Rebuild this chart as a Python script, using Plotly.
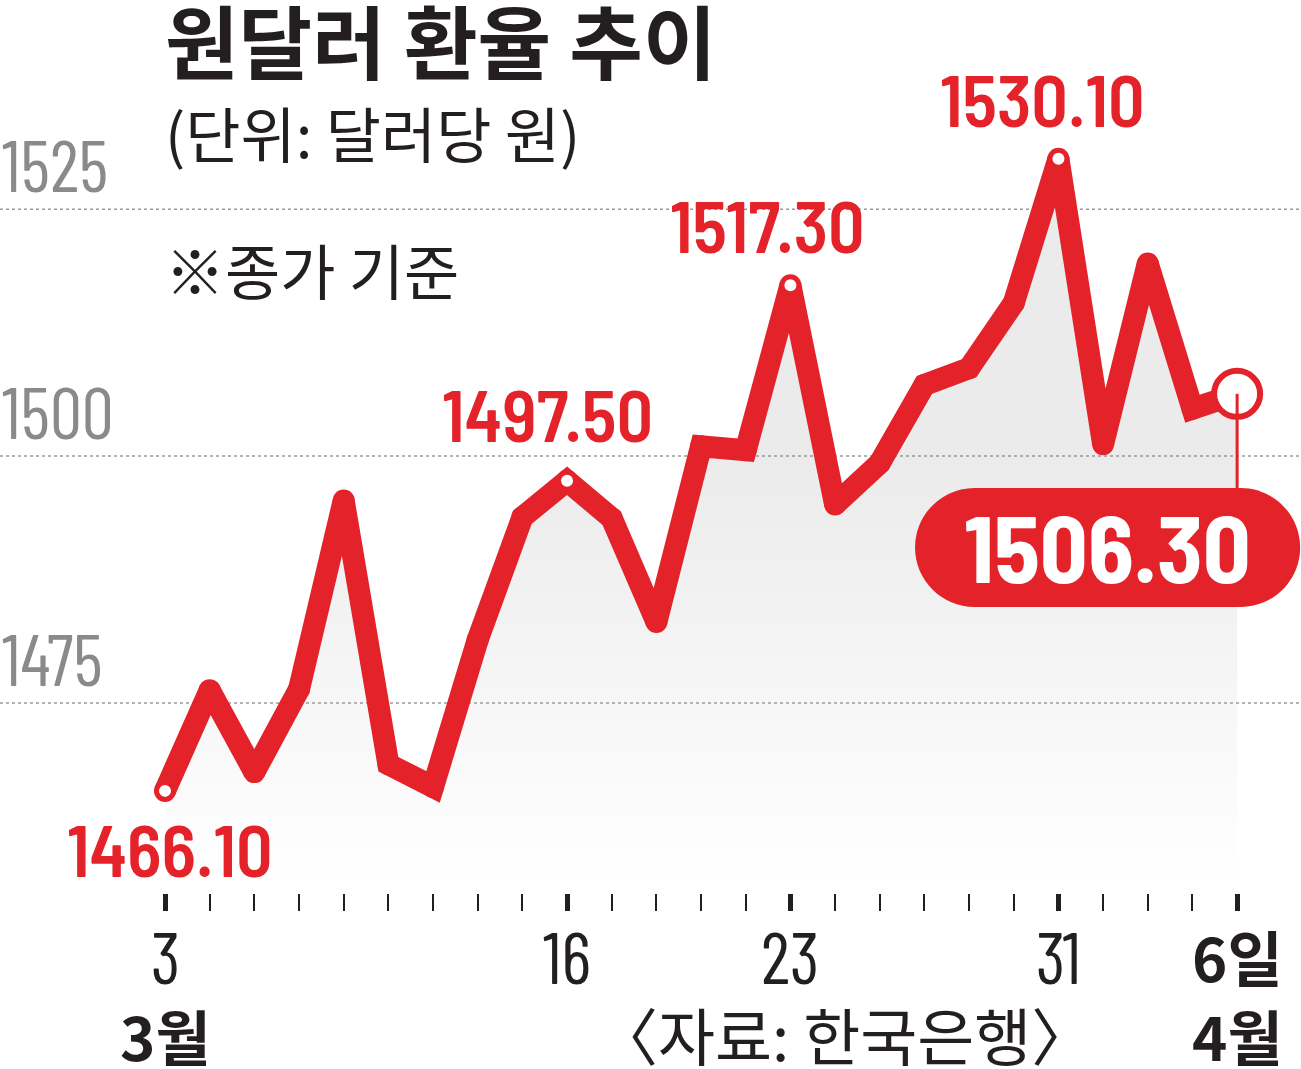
import plotly.graph_objects as go

# 원/달러 환율 종가 (2026년 3월 3일 ~ 4월 6일 영업일)
days = ["3", "4", "5", "6", "9", "10", "11", "12", "13", "16", "17", "18", "19",
        "20", "23", "24", "25", "26", "27", "30", "31", "1", "2", "3", "6"]
rates = [1466.1, 1476.3, 1468.0, 1476.4, 1495.5, 1468.8, 1466.5, 1481.4, 1493.8,
         1497.5, 1493.7, 1483.2, 1501.0, 1500.6, 1517.3, 1495.1, 1499.3, 1507.2,
         1508.9, 1515.5, 1530.1, 1501.2, 1519.5, 1504.8, 1506.3]

labeled_idx = [0, 9, 14, 20, 24]          # 눈금 라벨이 붙는 날짜
labeled_text = ["3", "16", "23", "31", "6일"]
highlight_idx = [0, 9, 14, 20]            # 수치가 표시된 지점
y_ticks = [1475, 1500, 1525]

RED = "#e42229"
DARK = "#231f20"
GREY = "#8a8a8a"
NARROW = "Barlow Condensed, Roboto Condensed, Liberation Sans Narrow, Roboto, sans-serif"
SEMI = "Barlow Semi Condensed, Roboto Condensed, Liberation Sans Narrow, Roboto, sans-serif"
KR = "Noto Sans CJK KR, sans-serif"

x = list(range(len(rates)))
X_RANGE = [-3.694, 25.43]
Y_RANGE = [1455.76, 1546.18]
PLOT_H = 893


def py(px):
    # 위에서부터의 픽셀 위치 -> paper 좌표
    return (PLOT_H - px) / PLOT_H


fig = go.Figure()

# 회색 그라데이션 영역
fig.add_trace(go.Scatter(
    x=x, y=rates, mode="lines", fill="tozeroy", line=dict(width=0),
    fillgradient=dict(type="vertical", start=1457, stop=1500,
                      colorscale=[[0, "#ffffff"], [1, "#ebebeb"]]),
    hoverinfo="skip",
))

# 점선 기준선
for v in y_ticks:
    fig.add_trace(go.Scatter(
        x=X_RANGE, y=[v, v], mode="lines",
        line=dict(color="#9a9a9a", width=1.5, dash="3px,3px"),
        hoverinfo="skip",
    ))

# 환율 선 (꼭짓점은 같은 색 원으로 둥글게)
fig.add_trace(go.Scatter(
    x=x, y=rates, mode="lines+markers",
    line=dict(color=RED, width=22),
    marker=dict(color=RED, size=22),
))

# 흰 점
fig.add_trace(go.Scatter(
    x=highlight_idx, y=[rates[i] for i in highlight_idx], mode="markers",
    marker=dict(color="white", size=12),
))

# 마지막 값 원
fig.add_trace(go.Scatter(
    x=[x[-1]], y=[rates[-1]], mode="markers",
    marker=dict(color="white", size=46, line=dict(color=RED, width=6)),
))

# 마지막 값 알약 모양 라벨
px_x = (X_RANGE[1] - X_RANGE[0]) / 1301
px_y = (Y_RANGE[1] - Y_RANGE[0]) / PLOT_H
x0, x1 = 16.79, 25.41
y0, y1 = 1484.72, 1496.77
ym = (y0 + y1) / 2
ry = (y1 - y0) / 2
rx = ry / px_y * px_x
k = 0.5523
path = (
    f"M {x0 + rx},{y1} L {x1 - rx},{y1} "
    f"C {x1 - rx + k * rx},{y1} {x1},{ym + k * ry} {x1},{ym} "
    f"C {x1},{ym - k * ry} {x1 - rx + k * rx},{y0} {x1 - rx},{y0} "
    f"L {x0 + rx},{y0} "
    f"C {x0 + rx - k * rx},{y0} {x0},{ym - k * ry} {x0},{ym} "
    f"C {x0},{ym + k * ry} {x0 + rx - k * rx},{y1} {x0 + rx},{y1} Z"
)
fig.add_shape(type="path", path=path, fillcolor=RED, line=dict(width=0), layer="above")
fig.add_shape(type="line", x0=x[-1], x1=x[-1], y0=rates[-1], y1=y1,
              line=dict(color=RED, width=3), layer="above")
fig.add_annotation(x=(x0 + x1) / 2, y=ym, text=f"{rates[-1]:.2f}",
                   showarrow=False, yshift=2,
                   font=dict(family=SEMI, size=94, weight=700, color="white"))

# 지점별 수치
offsets = {0: (5, -57), 9: (-20, 68), 14: (-23, 61), 20: (-16, 61)}
for i in highlight_idx:
    dx, dy = offsets[i]
    fig.add_annotation(x=x[i], y=rates[i], text=f"{rates[i]:.2f}",
                       showarrow=False, xshift=dx, yshift=dy,
                       font=dict(family=SEMI, size=72, weight=600, color=RED))

# y축 라벨
for v in y_ticks:
    fig.add_annotation(x=0, xref="paper", y=v, text=str(v), showarrow=False,
                       xanchor="left", yanchor="bottom", yshift=1,
                       font=dict(family=NARROW, size=72, weight=400, color=GREY))

# x축 눈금 라벨
for i, t in zip(labeled_idx, labeled_text):
    if t.endswith("일"):
        font = dict(family=KR, size=60, weight=700, color=DARK)
    else:
        font = dict(family=NARROW, size=72, weight=400, color=DARK)
    fig.add_annotation(x=x[i], y=py(955), yref="paper", text=t,
                       showarrow=False, yanchor="middle", font=font)

# 제목과 설명
fig.add_annotation(x=163 / 1301, xref="paper", y=py(38), yref="paper",
                   text="<b>원달러 환율 추이</b>", showarrow=False,
                   xanchor="left", yanchor="middle",
                   font=dict(family=KR, size=80, color=DARK))
fig.add_annotation(x=163 / 1301, xref="paper", y=py(132), yref="paper",
                   text="(단위: 달러당 원)", showarrow=False,
                   xanchor="left", yanchor="middle",
                   font=dict(family=KR, size=60, color=DARK))
fig.add_annotation(x=163 / 1301, xref="paper", y=py(268), yref="paper",
                   text="※종가 기준", showarrow=False,
                   xanchor="left", yanchor="middle",
                   font=dict(family=KR, size=60, color=DARK))

# 월 표시와 출처
for i, m in [(0, "3월"), (24, "4월")]:
    fig.add_annotation(x=x[i], y=py(1034), yref="paper",
                       text=f"<b>{m}</b>", showarrow=False, yanchor="middle",
                       font=dict(family=KR, size=60, color=DARK))
fig.add_annotation(x=845 / 1301, xref="paper", y=py(1034), yref="paper",
                   text="〈자료: 한국은행〉", showarrow=False, yanchor="middle",
                   font=dict(family=KR, size=62, color=DARK))

fig.update_layout(
    width=1301, height=1069,
    margin=dict(l=0, r=0, t=0, b=1069 - PLOT_H),
    paper_bgcolor="white", plot_bgcolor="white",
    showlegend=False,
    xaxis=dict(
        range=X_RANGE, showgrid=False, zeroline=False, showline=False,
        tickmode="array", tickvals=labeled_idx, showticklabels=False,
        ticks="outside", ticklen=17, tickwidth=5, tickcolor=DARK,
        minor=dict(tickmode="array", tickvals=x, ticks="outside",
                   ticklen=17, tickwidth=2, tickcolor=DARK),
        fixedrange=True,
    ),
    yaxis=dict(range=Y_RANGE, showgrid=False, zeroline=False,
               showticklabels=False, fixedrange=True),
)

fig.write_html("out.html", config={"displayModeBar": False},
               post_script="document.body.style.margin='0';")
